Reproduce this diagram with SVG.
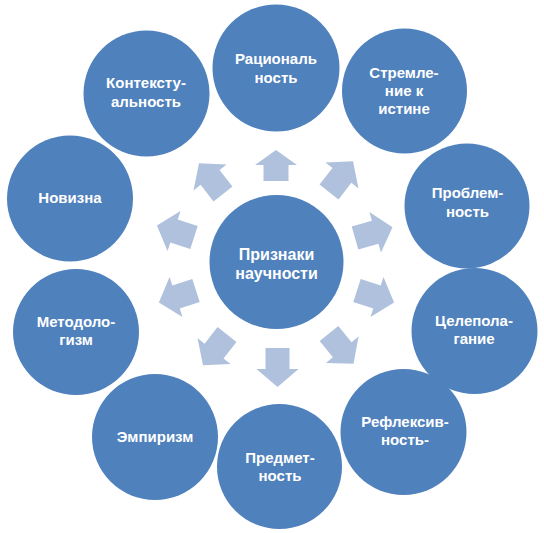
<svg xmlns="http://www.w3.org/2000/svg" xmlns:xlink="http://www.w3.org/1999/xlink" width="544" height="533" viewBox="0 0 544 533">
<style>
.node{fill:#4F81BD}
.arr{fill:#AFC1DD}
text{font-family:"Liberation Sans","Arial",sans-serif;font-weight:bold;font-size:15px;fill:#FFFFFF;text-anchor:middle}
.big{font-size:16px}
</style>
<defs>
<polygon id="a" class="arr" points="0,-12 21,-12 21,-21 39,0 21,21 21,12 0,12"/>
<polygon id="as" class="arr" points="0,-12.5 16,-12.5 16,-21 31,0 16,21 16,12.5 0,12.5"/>
</defs>
<rect width="544" height="533" fill="#FFFFFF"/>
<g id="connectors">
<use xlink:href="#as" transform="translate(276,181) rotate(-90)"/>
<use xlink:href="#a" transform="translate(329,192) rotate(-52)"/>
<use xlink:href="#a" transform="translate(355,238) rotate(-16)"/>
<use xlink:href="#a" transform="translate(357,290.5) rotate(18)"/>
<use xlink:href="#a" transform="translate(329,333.5) rotate(51)"/>
<use xlink:href="#a" transform="translate(277.5,348) rotate(90)"/>
<use xlink:href="#a" transform="translate(227,334.5) rotate(128)"/>
<use xlink:href="#a" transform="translate(196,290.5) rotate(162)"/>
<use xlink:href="#a" transform="translate(194,237.5) rotate(198)"/>
<use xlink:href="#a" transform="translate(223,194) rotate(232)"/>
</g>
<g id="center">
<circle class="node" cx="276.5" cy="262" r="67"/>
<text class="big" x="276.5" y="259.5">Признаки</text>
<text class="big" x="276.5" y="278.5">научности</text>
</g>
<g id="n-racionalnost">
<circle class="node" cx="276" cy="68" r="63.5"/>
<text x="276" y="63.5">Рациональ</text>
<text x="276" y="82.5">ность</text>
</g>
<g id="n-stremlenie">
<circle class="node" cx="404.5" cy="91" r="62.5"/>
<text x="404" y="77.5">Стремле-</text>
<text x="404" y="95.5">ние к</text>
<text x="404" y="113.5">истине</text>
</g>
<g id="n-problemnost">
<circle class="node" cx="467" cy="206" r="62.5"/>
<text x="467.5" y="197.5">Проблем-</text>
<text x="467.5" y="216.5">ность</text>
</g>
<g id="n-celepolaganie">
<circle class="node" cx="474.5" cy="331" r="63"/>
<text x="474" y="325.5">Целепола-</text>
<text x="474" y="343.5">гание</text>
</g>
<g id="n-refleksivnost">
<circle class="node" cx="403.5" cy="432" r="63"/>
<text x="405" y="426.5">Рефлексив-</text>
<text x="405" y="444.5">ность-</text>
</g>
<g id="n-predmetnost">
<circle class="node" cx="279.5" cy="466.5" r="62.5"/>
<text x="280" y="462.5">Предмет-</text>
<text x="280" y="480.5">ность</text>
</g>
<g id="n-empirizm">
<circle class="node" cx="155" cy="437" r="63"/>
<text x="155" y="441.5">Эмпиризм</text>
</g>
<g id="n-metodologizm">
<circle class="node" cx="76" cy="332" r="63"/>
<text x="76" y="326.5">Методоло-</text>
<text x="76" y="344.5">гизм</text>
</g>
<g id="n-novizna">
<circle class="node" cx="70" cy="198.5" r="63"/>
<text x="70" y="202.5">Новизна</text>
</g>
<g id="n-kontekstualnost">
<circle class="node" cx="146.5" cy="93.5" r="63"/>
<text x="146" y="87.5">Контексту-</text>
<text x="146" y="106.5">альность</text>
</g>
</svg>
